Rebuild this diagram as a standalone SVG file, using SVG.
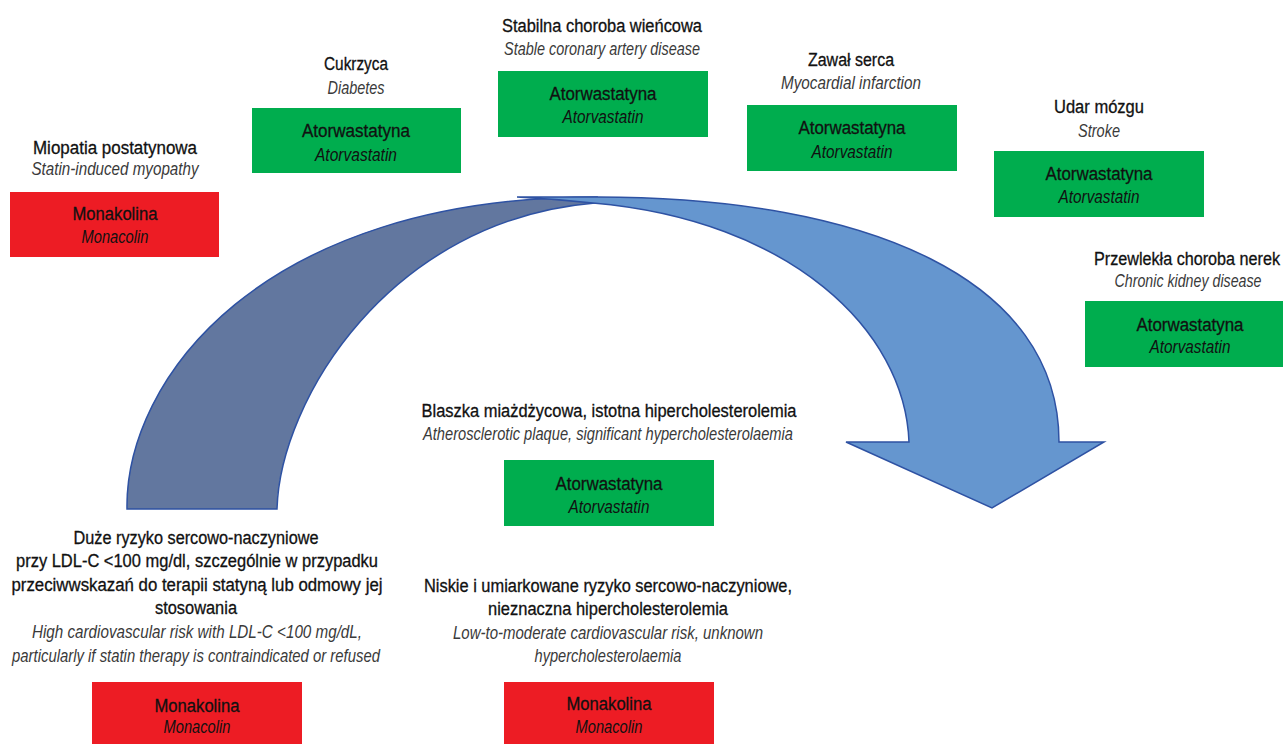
<svg xmlns="http://www.w3.org/2000/svg" width="1283" height="744" viewBox="0 0 1283 744">
<style>
text{font-family:"Liberation Sans",Arial,sans-serif;font-size:18px;text-anchor:middle;fill:#111;stroke:#111;stroke-width:0.3}
.i{font-style:italic;fill:#3a3a3a;stroke:none}
.bi{font-style:italic;fill:#111;stroke:none}
.g{fill:#00AD4E}
.r{fill:#ED1C24}
.arr{stroke:#2E52A3;stroke-width:1.5;stroke-linejoin:miter}
</style>
<rect width="1283" height="744" fill="#fff"/>
<g id="connectors">
<path class="arr" fill="#62779F" d="M127,509 C125,380 260,197 597,197 L595,203 C390,220 280,400 277,509 Z"/>
<path class="arr" fill="#6596CF" d="M517,197 L597,197 C870,197 1059,280 1059,442 L1104,442 L992,508 L846,442 L909,442 C905,330 790,220 593,203 Q555,199 517,197 Z"/>
</g>
<g id="miopatia">
<rect class="r" x="10" y="192" width="209" height="65"/>
<text x="115" y="154" textLength="164" lengthAdjust="spacingAndGlyphs">Miopatia postatynowa</text>
<text class="i" x="115" y="175" textLength="167" lengthAdjust="spacingAndGlyphs">Statin-induced myopathy</text>
<text x="115" y="220" textLength="85" lengthAdjust="spacingAndGlyphs">Monakolina</text>
<text class="bi" x="115" y="243" textLength="67" lengthAdjust="spacingAndGlyphs">Monacolin</text>
</g>
<g id="cukrzyca">
<rect class="g" x="252" y="108" width="209" height="65"/>
<text x="356" y="70" textLength="64" lengthAdjust="spacingAndGlyphs">Cukrzyca</text>
<text class="i" x="356" y="94" textLength="57" lengthAdjust="spacingAndGlyphs">Diabetes</text>
<text x="356" y="137" textLength="108" lengthAdjust="spacingAndGlyphs">Atorwastatyna</text>
<text class="bi" x="356" y="161" textLength="82" lengthAdjust="spacingAndGlyphs">Atorvastatin</text>
</g>
<g id="stabilna">
<rect class="g" x="498" y="71" width="210" height="66"/>
<text x="602" y="32" textLength="200" lengthAdjust="spacingAndGlyphs">Stabilna choroba wieńcowa</text>
<text class="i" x="602" y="55" textLength="196" lengthAdjust="spacingAndGlyphs">Stable coronary artery disease</text>
<text x="603" y="100" textLength="107" lengthAdjust="spacingAndGlyphs">Atorwastatyna</text>
<text class="bi" x="603" y="123" textLength="81" lengthAdjust="spacingAndGlyphs">Atorvastatin</text>
</g>
<g id="zawal">
<rect class="g" x="747" y="105" width="210" height="66"/>
<text x="851" y="66" textLength="86" lengthAdjust="spacingAndGlyphs">Zawał serca</text>
<text class="i" x="851" y="89" textLength="140" lengthAdjust="spacingAndGlyphs">Myocardial infarction</text>
<text x="852" y="134" textLength="107" lengthAdjust="spacingAndGlyphs">Atorwastatyna</text>
<text class="bi" x="852" y="158" textLength="81" lengthAdjust="spacingAndGlyphs">Atorvastatin</text>
</g>
<g id="udar">
<rect class="g" x="994" y="151" width="210" height="66"/>
<text x="1099" y="113" textLength="90" lengthAdjust="spacingAndGlyphs">Udar mózgu</text>
<text class="i" x="1099" y="137" textLength="42" lengthAdjust="spacingAndGlyphs">Stroke</text>
<text x="1099" y="180" textLength="107" lengthAdjust="spacingAndGlyphs">Atorwastatyna</text>
<text class="bi" x="1099" y="203" textLength="81" lengthAdjust="spacingAndGlyphs">Atorvastatin</text>
</g>
<g id="nerki">
<rect class="g" x="1085" y="301" width="210" height="66"/>
<text x="1187" y="265" textLength="186" lengthAdjust="spacingAndGlyphs">Przewlekła choroba nerek</text>
<text class="i" x="1188" y="287" textLength="147" lengthAdjust="spacingAndGlyphs">Chronic kidney disease</text>
<text x="1190" y="331" textLength="107" lengthAdjust="spacingAndGlyphs">Atorwastatyna</text>
<text class="bi" x="1190" y="353" textLength="81" lengthAdjust="spacingAndGlyphs">Atorvastatin</text>
</g>
<g id="blaszka">
<rect class="g" x="504" y="460" width="210" height="66"/>
<text x="609" y="417" textLength="375" lengthAdjust="spacingAndGlyphs">Blaszka miażdżycowa, istotna hipercholesterolemia</text>
<text class="i" x="608" y="440" textLength="370" lengthAdjust="spacingAndGlyphs">Atherosclerotic plaque, significant hypercholesterolaemia</text>
<text x="609" y="490" textLength="107" lengthAdjust="spacingAndGlyphs">Atorwastatyna</text>
<text class="bi" x="609" y="513" textLength="81" lengthAdjust="spacingAndGlyphs">Atorvastatin</text>
</g>
<g id="duze-ryzyko">
<rect class="r" x="92" y="682" width="210" height="62"/>
<text x="196" y="544" textLength="245" lengthAdjust="spacingAndGlyphs">Duże ryzyko sercowo-naczyniowe</text>
<text x="197" y="567" textLength="362" lengthAdjust="spacingAndGlyphs">przy LDL-C &lt;100 mg/dl, szczególnie w przypadku</text>
<text x="197" y="591" textLength="371" lengthAdjust="spacingAndGlyphs">przeciwwskazań do terapii statyną lub odmowy jej</text>
<text x="196" y="614" textLength="82" lengthAdjust="spacingAndGlyphs">stosowania</text>
<text class="i" x="197" y="638" textLength="330" lengthAdjust="spacingAndGlyphs">High cardiovascular risk with LDL-C &lt;100 mg/dL,</text>
<text class="i" x="196" y="662" textLength="368" lengthAdjust="spacingAndGlyphs">particularly if statin therapy is contraindicated or refused</text>
<text x="197" y="712" textLength="85" lengthAdjust="spacingAndGlyphs">Monakolina</text>
<text class="bi" x="197" y="733" textLength="67" lengthAdjust="spacingAndGlyphs">Monacolin</text>
</g>
<g id="niskie-ryzyko">
<rect class="r" x="504" y="682" width="210" height="62"/>
<text x="608" y="592" textLength="368" lengthAdjust="spacingAndGlyphs">Niskie i umiarkowane ryzyko sercowo-naczyniowe,</text>
<text x="608" y="615" textLength="240" lengthAdjust="spacingAndGlyphs">nieznaczna hipercholesterolemia</text>
<text class="i" x="608" y="639" textLength="310" lengthAdjust="spacingAndGlyphs">Low-to-moderate cardiovascular risk, unknown</text>
<text class="i" x="608" y="662" textLength="147" lengthAdjust="spacingAndGlyphs">hypercholesterolaemia</text>
<text x="609" y="710" textLength="85" lengthAdjust="spacingAndGlyphs">Monakolina</text>
<text class="bi" x="609" y="733" textLength="67" lengthAdjust="spacingAndGlyphs">Monacolin</text>
</g>
</svg>
